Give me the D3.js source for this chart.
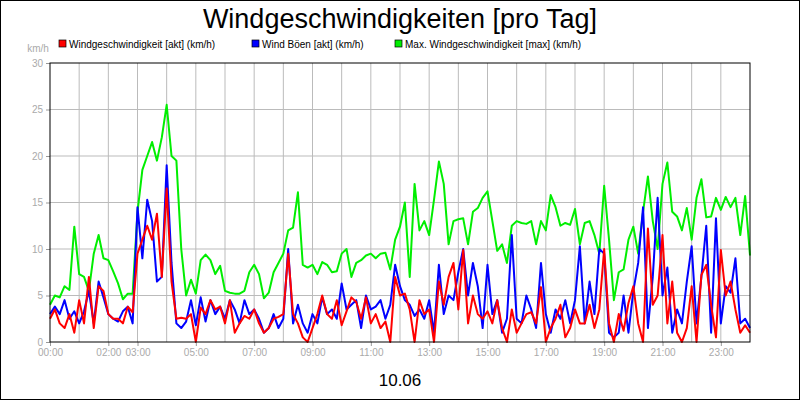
<!DOCTYPE html>
<html><head><meta charset="utf-8">
<script src="https://cdn.jsdelivr.net/npm/d3@7"></script>
<style>body{margin:0;background:#fff}svg{display:block;font-family:"Liberation Sans",Arial,sans-serif}</style>
</head><body><svg width="800" height="400"></svg>
<script>
const title = "Windgeschwindigkeiten [pro Tag]";
const dateLabel = "10.06";
const unitLabel = "km/h";
const seriesNames = ["Windgeschwindigkeit [akt] (km/h)", "Wind Böen [akt] (km/h)", "Max. Windgeschwindigkeit [max] (km/h)"];
const seriesColors = ["#ff0000", "#0000ff", "#00ee00"];
const xTickLabels = ["00:00","02:00","03:00","05:00","07:00","09:00","11:00","13:00","15:00","17:00","19:00","21:00","23:00"];
const xTickHours = [0,2,3,5,7,9,11,13,15,17,19,21,23];
const yTicks = [0,5,10,15,20,25,30];
// 10-minute samples, 00:00..24:00
const maxWind = [4,5,4.8,6,5.6,12.4, 7.3,7,5.5,9.5,11.5,9, 8.8,7.6,6.3,4.6,5.2,5.2, 14,18.5,20,21.5,19.5,22,
 25.5,20,19.5,10,5,6.7, 5.2,8.8,9.4,8.8,7.3,8.2, 5.5,5.3,5.2,5.2,5.5,7.5, 8.3,7.3,4.7,5.3,7.5,8.5,
 9.5,12,12.3,16.1,8.3,8, 8.3,7.3,8.6,8.3,7.5,7.6, 9.5,10,7,8.5,8.8,9.3, 9.5,9,9.5,9.6,7.8,11,
 12.4,15,7,17,12,13, 11.5,15.3,19.4,17,10.5,13, 13.2,13.3,10.5,14,14.4,15.5, 16.2,13,9.8,10.5,8.5,12.5,
 13,12.8,12.7,13,10.5,13, 12,15.8,14.5,12.5,12.8,12.6, 14.3,10.5,12.8,13,11.5,9.5, 16.8,11,4.5,7.5,7.8,11,
 12.4,9.5,14,17.8,13,10, 17,19.3,14,13.5,12,14.4, 11,15.5,17.5,13.4,13.5,15.5, 14.2,15.6,14.5,15.5,11.5,15.7,9.3];
const windSpeed = [2.5,3.5,2,1.5,3,1, 4.5,2,7,1.5,6,5.5, 3,2.5,2.5,2,3.8,3.2, 9.5,11,12.5,11,13.8,7,
 16.5,6.5,2.5,2.6,2.5,3, 0,3.7,3,4.5,3.5,3.8, 2,4.5,1,2,2.8,2.5, 3.5,2,1,1.5,2.5,2.7,
 3,9.5,3,2,0.5,0, 1.5,3,5,3,2.5,4.5, 1.8,3.3,4.8,4.3,2.5,4.8, 2,3,1.5,2.2,0,7,
 5,5.2,3.5,0,4.5,3, 3.5,0,6.5,4,7,8.5, 3.5,9.9,2,5,3,2.5, 3.3,2,4.5,1.5,0,3.5,
 1,2,3,3.2,2,5.9, 0,1.5,2.5,4,0.5,1.5, 3.5,2,2,4,1.5,3.5, 10,2,0,3,1.2,4.2,
 6,2,0,12.2,4,5, 11.5,2,6.5,1,0,1.5, 6,0,7.2,8.3,4,0.5, 9.9,5,6.5,3.5,1,1.8,1];
const gusts = [3,3.8,3,4.5,2.5,3.3, 2,3.3,5.5,2,6.5,4.8, 3,2.5,2.2,3.3,3.8,2, 14.5,9,15.3,13,6.5,7,
 19,8.5,2,1.5,2.2,4.5, 1.8,4.8,2.2,4.5,3,3.8, 2.5,4.5,3.5,2,4.5,3, 3.5,2.5,1,1.5,3,1.5,
 2.5,10,2,4,2,1, 3,2,4.8,3,3.5,2.5, 6.3,3.5,4,4.5,1.5,5, 3.5,3.8,4.5,2.5,4,8.3,
 6,4.5,4,2.8,3.5,2.5, 4.5,1,8.3,3,5,4.5, 7.5,10,5,8.5,6,1.5, 8.3,3,4.5,1,2.5,11.5,
 2.5,2,5,3.5,1.5,8.5, 3,1,3.5,2.5,4.5,2, 4.5,10.3,2,6.5,3,10, 9.5,1,0.5,1,5,1,
 5.5,8.5,14.5,1.5,7,15.5, 5,8,1,3.5,2,6.5, 10.3,2,7,12.5,1,13.3, 2,6,5.3,9,2,2.5,1.5];

const svg = d3.select("svg");
svg.append("rect").attr("x",0.5).attr("y",0.5).attr("width",799).attr("height",399).attr("fill","#fff").attr("stroke","#000");
const m = {l:50, r:750, t:63, b:342};
const x = d3.scaleLinear().domain([0,24]).range([m.l,m.r]);
const y = d3.scaleLinear().domain([0,30]).range([m.b,m.t]);
const g = svg.append("g");
// grid
g.selectAll(".vg").data(d3.range(1,24)).join("line").attr("x1",d=>x(d)).attr("x2",d=>x(d)).attr("y1",m.t).attr("y2",m.b).attr("stroke","#bbb");
g.selectAll(".hg").data(yTicks.slice(1,-1)).join("line").attr("x1",m.l).attr("x2",m.r).attr("y1",d=>y(d)).attr("y2",d=>y(d)).attr("stroke","#bbb");
// axes
const ya = svg.append("g").attr("transform",`translate(${m.l},0)`).call(d3.axisLeft(y).tickValues(yTicks).tickSize(4).tickPadding(3));
const xa = svg.append("g").attr("transform",`translate(0,${m.b})`).call(d3.axisBottom(x).tickValues(xTickHours).tickFormat((d,i)=>xTickLabels[i]).tickSize(4).tickPadding(3));
[ya,xa].forEach(a=>{a.select(".domain").remove();a.selectAll("line").attr("stroke","#999");a.selectAll("text").attr("fill","#aaa").attr("font-size",10).attr("font-family","Liberation Sans, Arial");});
// lines
const line = d3.line().x((d,i)=>x(i/6)).y(d=>y(d));
[maxWind, gusts, windSpeed].forEach((s,k)=>{
  const col = [seriesColors[2],seriesColors[1],seriesColors[0]][k];
  g.append("path").datum(s).attr("d",line).attr("fill","none").attr("stroke",col).attr("stroke-width",2).attr("stroke-linejoin","round");
});
svg.append("rect").attr("x",m.l).attr("y",m.t).attr("width",m.r-m.l).attr("height",m.b-m.t).attr("fill","none").attr("stroke","#000");
// titles
svg.append("text").attr("x",400).attr("y",28).attr("text-anchor","middle").attr("font-size",27).text(title);
svg.append("text").attr("x",400).attr("y",386).attr("text-anchor","middle").attr("font-size",17).text(dateLabel);
svg.append("text").attr("x",38).attr("y",52).attr("text-anchor","middle").attr("font-size",10).attr("fill","#aaa").text(unitLabel);
// legend
const legX = [59,252,395];
seriesNames.forEach((n,i)=>{
  svg.append("rect").attr("x",legX[i]).attr("y",40).attr("width",7).attr("height",7).attr("fill",seriesColors[i]).attr("stroke","#000").attr("stroke-width",0.7);
  svg.append("text").attr("x",legX[i]+10).attr("y",47.5).attr("font-size",10).text(n);
});
</script></body></html>
